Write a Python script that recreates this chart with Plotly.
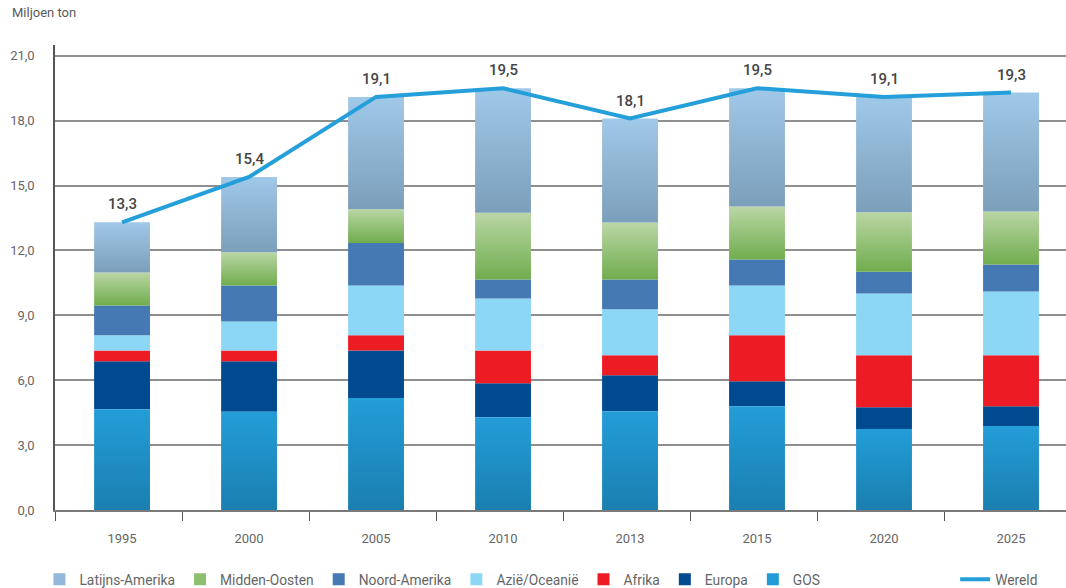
import numpy as np
import plotly.graph_objects as go

# Years on the horizontal axis
years = ["1995", "2000", "2005", "2010", "2013", "2015", "2020", "2025"]

# Regional volumes (miljoen ton), stacked bottom to top
gos = [4.66, 4.54, 5.18, 4.29, 4.57, 4.80, 3.75, 3.88]
europa = [2.22, 2.34, 2.20, 1.57, 1.66, 1.15, 1.00, 0.92]
afrika = [0.50, 0.50, 0.70, 1.52, 0.92, 2.13, 2.40, 2.35]
azie_oceanie = [0.70, 1.34, 2.30, 2.40, 2.13, 2.30, 2.86, 2.95]
noord_amerika = [1.38, 1.66, 1.97, 0.88, 1.38, 1.20, 1.01, 1.25]
midden_oosten = [1.52, 1.54, 1.56, 3.08, 2.63, 2.45, 2.75, 2.45]
latijns_amerika = [2.32, 3.48, 5.19, 5.76, 4.81, 5.47, 5.33, 5.50]

# World total
wereld = [13.3, 15.4, 19.1, 19.5, 18.1, 19.5, 19.1, 19.3]

# Series definitions: name, values, solid colour or (bottom, top) gradient
series = [
    ("GOS", gos, ("#1a7fb0", "#239dd8")),
    ("Europa", europa, "#004a8f"),
    ("Afrika", afrika, "#ed1c24"),
    ("Azië/Oceanië", azie_oceanie, "#8dd7f6"),
    ("Noord-Amerika", noord_amerika, "#4579b3"),
    ("Midden-Oosten", midden_oosten, ("#70ad4e", "#bad6a5")),
    ("Latijns-Amerika", latijns_amerika, ("#7b9fbb", "#a0c8e8")),
]
legend_order = ["Latijns-Amerika", "Midden-Oosten", "Noord-Amerika",
                "Azië/Oceanië", "Afrika", "Europa", "GOS"]
legend_swatch = {"GOS": "#229ad4", "Midden-Oosten": "#8fc06f",
                 "Latijns-Amerika": "#93b9da"}

FONT = "Roboto"
BAR_W = 0.44
idx = np.arange(len(years))

fig = go.Figure()

base = np.zeros(len(years))
for name, vals, color in series:
    vals = np.array(vals, dtype=float)
    rank = legend_order.index(name) + 1
    if isinstance(color, tuple):
        bottom_c, top_c = color
        # one filled polygon per segment so each gets its own vertical gradient
        for i in idx:
            b, t = base[i], base[i] + vals[i]
            fig.add_trace(go.Scatter(
                x=[i - BAR_W / 2, i + BAR_W / 2, i + BAR_W / 2, i - BAR_W / 2, i - BAR_W / 2],
                y=[b, b, t, t, b],
                mode="lines", line=dict(width=0), fill="toself",
                fillcolor=top_c,
                fillgradient=dict(type="vertical",
                                  colorscale=[[0, bottom_c], [1, top_c]]),
                showlegend=False, hoverinfo="skip",
            ))
        # legend entry
        fig.add_trace(go.Bar(
            x=[0], y=[0], base=[0], width=BAR_W, name=name,
            marker=dict(color=legend_swatch[name], line=dict(width=0)),
            legendrank=rank, hoverinfo="skip",
        ))
    else:
        fig.add_trace(go.Bar(
            x=idx, y=vals, base=base.copy(), width=BAR_W, name=name,
            marker=dict(color=color, line=dict(width=0)),
            legendrank=rank, hoverinfo="skip",
        ))
    base = base + vals

# World line
fig.add_trace(go.Scatter(
    x=idx, y=wereld, mode="lines", name="Wereld",
    line=dict(color="#259fd9", width=4),
    legend="legend2", hoverinfo="skip",
))

# Value labels above the world line
for i, v in zip(idx, wereld):
    fig.add_annotation(
        x=i, y=v, text=f"{v:.1f}".replace(".", ","), showarrow=False,
        yanchor="bottom", yshift=7,
        font=dict(family=FONT, size=15, color="#454545", weight=500),
    )

# Unit label
fig.add_annotation(
    xref="paper", yref="paper", x=0, y=1, xshift=-45, yshift=33,
    xanchor="left", yanchor="middle", showarrow=False,
    text="Miljoen ton", font=dict(family=FONT, size=13, color="#5a5a5a"),
)

fig.update_layout(
    width=1066, height=588,
    margin=dict(l=55, r=0, t=45, b=78),
    paper_bgcolor="white", plot_bgcolor="white",
    barmode="overlay", hovermode=False,
    separators=", ",
    font=dict(family=FONT, size=13, color="#5a5a5a"),
    legend=dict(
        orientation="h", xref="container", yref="container",
        x=0.037, y=0.015, xanchor="left", yanchor="middle",
        font=dict(family=FONT, size=13.8, color="#666666"),
        itemclick=False, itemdoubleclick=False,
    ),
    legend2=dict(
        orientation="h", xref="container", yref="container",
        x=0.896, y=0.015, xanchor="left", yanchor="middle",
        font=dict(family=FONT, size=13.8, color="#666666"),
        itemclick=False, itemdoubleclick=False,
    ),
    xaxis=dict(
        range=[-0.528, 7.433], tickmode="array", tickvals=idx, ticktext=years,
        ticks="", showgrid=False, zeroline=False,
        showline=True, linecolor="#7a7a7a", linewidth=1.5,
        ticklabelstandoff=16,
        tickfont=dict(family=FONT, size=13, color="#666666"),
        minor=dict(tick0=-0.525, dtick=1, ticks="outside", ticklen=9,
                   tickcolor="#555555", tickwidth=1.2, showgrid=False),
    ),
    yaxis=dict(
        range=[0, 21.5], tickmode="linear", tick0=0, dtick=3, tickformat=".1f",
        showgrid=True, gridcolor="#8f8f8f", gridwidth=1.5,
        zeroline=False, showline=True, linecolor="#555555", linewidth=1.5,
        ticks="", ticklabelstandoff=16,
        tickfont=dict(family=FONT, size=13, color="#666666"),
    ),
)

fig.write_html("out.html")
